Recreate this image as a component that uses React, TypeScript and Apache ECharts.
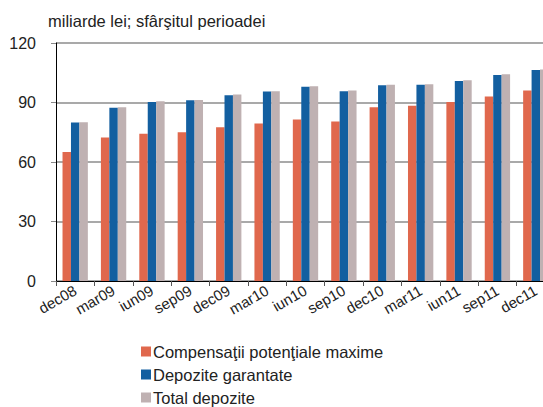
import React, { useEffect, useRef } from "react";
import * as echarts from "echarts";

const categories = ["dec08", "mar09", "iun09", "sep09", "dec09", "mar10", "iun10", "sep10", "dec10", "mar11", "iun11", "sep11", "dec11"];
const compensatii = [65.0, 72.3, 74.2, 75.0, 77.5, 79.4, 81.4, 80.4, 87.6, 88.3, 90.3, 93.0, 96.0];
const garantate = [79.9, 87.3, 90.3, 91.1, 93.7, 95.5, 97.9, 95.7, 98.7, 98.9, 100.9, 103.9, 106.4];
const total = [80.1, 87.6, 90.6, 91.3, 94.0, 95.7, 98.2, 96.0, 98.9, 99.2, 101.2, 104.2, 106.7];
const seriesNames = ["Compensaţii potenţiale maxime", "Depozite garantate", "Total depozite"];
const colors = ["#E0684D", "#135FA0", "#BFB1B2"];
const yTicks = { min: 0, max: 120, interval: 30 };
const titleText = "miliarde lei; sfârşitul perioadei";

export default function App() {
  const ref = useRef<HTMLDivElement>(null);
  useEffect(() => {
    document.body.style.margin = "0";
    const chart = echarts.init(ref.current!, null, { renderer: "svg" });
    const font = "'Liberation Sans', Arial, sans-serif";
    const data = [compensatii, garantate, total];
    chart.setOption({
      animation: false,
      backgroundColor: "#fff",
      textStyle: { fontFamily: font },
      title: {
        text: titleText,
        left: 43,
        top: 7,
        textStyle: { fontSize: 16.5, fontWeight: "normal", color: "#222", fontFamily: font },
      },
      legend: {
        orient: "vertical",
        left: 136,
        top: 338,
        height: 72,
        itemWidth: 10,
        itemHeight: 10,
        itemGap: 6,
        icon: "rect",
        textStyle: { fontSize: 16.5, color: "#222", fontFamily: font, padding: [0, 0, 0, -3] },
        data: seriesNames,
      },
      grid: { left: 56, top: 43, right: -12, bottom: 126, outerBoundsMode: "none" },
      xAxis: {
        type: "category",
        data: categories,
        axisLine: { lineStyle: { color: "#000", width: 1 } },
        axisTick: { show: true, length: 5, lineStyle: { color: "#555" } },
        axisLabel: { rotate: 30, fontSize: 15, color: "#222", margin: 8, fontFamily: font, interval: 0, hideOverlap: false },
      },
      yAxis: {
        type: "value",
        min: yTicks.min,
        max: yTicks.max,
        interval: yTicks.interval,
        axisLine: { show: true, lineStyle: { color: "#000", width: 1 } },
        axisTick: { show: true, length: 5, lineStyle: { color: "#888" } },
        axisLabel: { fontSize: 16, color: "#222", margin: 20, fontFamily: font },
        splitLine: { lineStyle: { color: "#8c8c8c", width: 1.5 } },
      },
      series: seriesNames.map((name, i) => ({
        name,
        type: "bar",
        data: data[i],
        barGap: "0%",
        barCategoryGap: "34%",
        itemStyle: { color: colors[i] },
      })),
    });
    return () => chart.dispose();
  }, []);
  return <div ref={ref} style={{ width: 543, height: 407 }} />;
}
